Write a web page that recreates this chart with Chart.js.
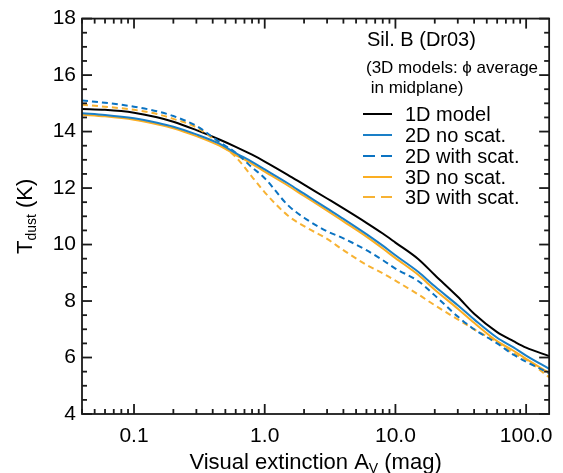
<!DOCTYPE html>
<html>
<head>
<meta charset="utf-8">
<title>Tdust vs Av</title>
<script src="https://cdn.jsdelivr.net/npm/chart.js@4.4.1/dist/chart.umd.min.js"></script>
<style>
  html, body { margin: 0; padding: 0; background: #fff; }
  #wrap { width: 563px; height: 473px; }
</style>
</head>
<body>
<div id="wrap"><canvas id="tdustChart" width="563" height="473"></canvas></div>
<script>
// Dust temperature vs visual extinction, Sil. B (Dr03)
// values

const avGrid = [0.04, 0.06, 0.1, 0.15, 0.2, 0.3, 0.45, 0.6, 0.8, 1.0, 1.5, 2, 3, 4, 6, 8, 10, 15, 20, 30, 40, 60, 80, 100, 150];

const t1D       = [14.8, 14.77, 14.67, 14.51, 14.35, 14.05, 13.72, 13.46, 13.18, 12.94, 12.47, 12.12, 11.63, 11.28, 10.77, 10.39, 10.07, 9.48, 8.92, 8.15, 7.55, 6.9, 6.58, 6.35, 6.05];
const t2DNoScat = [14.65, 14.59, 14.47, 14.31, 14.17, 13.9, 13.57, 13.24, 12.93, 12.66, 12.17, 11.8, 11.28, 10.91, 10.37, 9.96, 9.62, 9.03, 8.52, 7.85, 7.35, 6.7, 6.36, 6.07, 5.6];
const t2DScat   = [15.1, 15.02, 14.88, 14.72, 14.55, 14.2, 13.63, 13.25, 12.73, 12.35, 11.4, 10.95, 10.47, 10.22, 9.8, 9.45, 9.15, 8.7, 8.2, 7.45, 7.0, 6.5, 6.1, 5.85, 5.45];
const t3DNoScat = [14.6, 14.54, 14.42, 14.26, 14.12, 13.84, 13.5, 13.17, 12.86, 12.58, 12.09, 11.72, 11.2, 10.82, 10.28, 9.86, 9.52, 8.92, 8.4, 7.73, 7.23, 6.58, 6.24, 5.95, 5.45];
const t3DScat   = [14.95, 14.88, 14.77, 14.62, 14.45, 14.15, 13.57, 13.1, 12.4, 11.85, 11.03, 10.65, 10.2, 9.8, 9.28, 8.98, 8.72, 8.23, 7.85, 7.35, 7.0, 6.55, 6.15, 5.92, 5.3];

const seriesLabels = ['1D model', '2D no scat.', '2D with scat.', '3D no scat.', '3D with scat.'];
const seriesColors = ['#000000', '#1a7fc7', '#0b73c2', '#fbae22', '#f7b233'];
const seriesDashed = [false, false, true, false, true];

const xTickValues = [0.1, 1, 10, 100];
const xTickLabels = ['0.1', '1.0', '10.0', '100.0'];
const yTickValues = [4, 6, 8, 10, 12, 14, 16, 18];

const X_MIN = 0.04, X_MAX = 150;
const Y_MIN = 4, Y_MAX = 18;
const FONT = '"Liberation Sans", Arial, Helvetica, sans-serif';

function toPoints(ys) {
    return avGrid.map((a, i) => ({ x: a, y: ys[i] }));
}

const allSeries = [t1D, t2DNoScat, t2DScat, t3DNoScat, t3DScat];

const datasets = allSeries.map((ys, i) => ({
    label: seriesLabels[i],
    data: toPoints(ys),
    borderColor: seriesColors[i],
    borderWidth: 2,
    borderDash: seriesDashed[i] ? [6, 4] : [],
    pointRadius: 0,
    fill: false,
    cubicInterpolationMode: 'monotone'
}));
// draw the black line on top
datasets.push(datasets.shift());

/**
 * Box, inward ticks on all four sides, axis titles and the legend block
 */
const framePlugin = {
    id: 'frame',
    afterDraw(chart) {
        const ctx = chart.ctx;
        const { left, right, top, bottom } = chart.chartArea;
        const xs = chart.scales.x;
        const ys = chart.scales.y;

        ctx.save();
        ctx.strokeStyle = '#1a1a1a';
        ctx.lineWidth = 1.8;
        ctx.setLineDash([]);
        ctx.strokeRect(left, top, right - left, bottom - top);

        const line = (x1, y1, x2, y2) => {
            ctx.beginPath();
            ctx.moveTo(x1, y1);
            ctx.lineTo(x2, y2);
            ctx.stroke();
        };

        // y ticks, minor every 0.5
        for (let v = Y_MIN; v <= Y_MAX + 1e-9; v += 0.5) {
            const py = ys.getPixelForValue(v);
            const len = Math.abs(v % 2) < 1e-9 ? 10 : 5;
            line(left, py, left + len, py);
            line(right, py, right - len, py);
        }

        // x ticks, log decades
        for (let d = -2; d <= 2; d++) {
            for (let k = 1; k <= 9; k++) {
                const v = k * Math.pow(10, d);
                if (v < X_MIN || v > X_MAX) continue;
                const px = xs.getPixelForValue(v);
                const len = k === 1 ? 10 : 5;
                line(px, bottom, px, bottom - len);
                line(px, top, px, top + len);
            }
        }

        // x title with subscript
        ctx.fillStyle = '#000';
        ctx.textBaseline = 'alphabetic';
        ctx.textAlign = 'left';
        const big = '22px ' + FONT, small = '14px ' + FONT;
        ctx.font = big;
        const p1 = 'Visual extinction A', p3 = ' (mag)';
        const w1 = ctx.measureText(p1).width, w3 = ctx.measureText(p3).width;
        ctx.font = small;
        const w2 = ctx.measureText('V').width;
        let tx = (left + right) / 2 - (w1 + w2 + w3) / 2;
        const ty = 469;
        ctx.font = big;
        ctx.fillText(p1, tx, ty);
        ctx.font = small;
        ctx.fillText('V', tx + w1, ty + 4);
        ctx.font = big;
        ctx.fillText(p3, tx + w1 + w2, ty);

        // y title, rotated
        ctx.save();
        ctx.translate(32, (top + bottom) / 2);
        ctx.rotate(-Math.PI / 2);
        ctx.font = big;
        const q1 = 'T', q3 = ' (K)';
        const u1 = ctx.measureText(q1).width, u3 = ctx.measureText(q3).width;
        ctx.font = small;
        const u2 = ctx.measureText('dust').width;
        let sx = -(u1 + u2 + u3) / 2;
        ctx.font = big;
        ctx.fillText(q1, sx, 0);
        ctx.font = small;
        ctx.fillText('dust', sx + u1, 4);
        ctx.font = big;
        ctx.fillText(q3, sx + u1 + u2, 0);
        ctx.restore();

        // legend block
        ctx.textBaseline = 'middle';
        ctx.font = '20px ' + FONT;
        ctx.fillText('Sil. B (Dr03)', 367, 40);
        ctx.font = '17px ' + FONT;
        ctx.fillText('(3D models: \u03d5 average', 366, 68);
        ctx.fillText(' in midplane)', 366, 88);

        const rowY = [114, 135, 156, 177, 197];
        ctx.font = '20px ' + FONT;
        seriesLabels.forEach((lab, i) => {
            const y = rowY[i];
            ctx.strokeStyle = seriesColors[i];
            ctx.lineWidth = 2;
            ctx.setLineDash(seriesDashed[i] ? [12, 6] : []);
            line(363, y, 392, y);
            ctx.setLineDash([]);
            ctx.fillStyle = '#000';
            ctx.fillText(lab, 405, y + 1);
        });
        ctx.restore();
    }
};

const chart = new Chart(document.getElementById('tdustChart'), {
    type: 'line',
    data: { datasets: datasets },
    options: {
        responsive: false,
        devicePixelRatio: 1,
        animation: false,
        layout: { padding: { top: 13, right: 12, left: 0, bottom: 0 } },
        plugins: {
            legend: { display: false },
            tooltip: { enabled: false }
        },
        scales: {
            x: {
                type: 'logarithmic',
                min: X_MIN,
                max: X_MAX,
                grid: { display: false, drawTicks: false },
                border: { display: false },
                afterBuildTicks: (scale) => {
                    scale.ticks = xTickValues.map(v => ({ value: v, major: true }));
                },
                afterFit: (scale) => { scale.height = 59; },
                ticks: {
                    autoSkip: false,
                    maxRotation: 0,
                    padding: 10,
                    color: '#000',
                    font: { family: FONT, size: 21 },
                    callback: (v) => {
                        const i = xTickValues.indexOf(v);
                        return i >= 0 ? xTickLabels[i] : '';
                    }
                }
            },
            y: {
                type: 'linear',
                min: Y_MIN,
                max: Y_MAX,
                grid: { display: false, drawTicks: false },
                border: { display: false },
                afterBuildTicks: (scale) => {
                    scale.ticks = yTickValues.map(v => ({ value: v }));
                },
                afterFit: (scale) => { scale.width = 82; },
                ticks: {
                    autoSkip: false,
                    padding: 6,
                    color: '#000',
                    font: { family: FONT, size: 21 },
                    callback: (v) => String(v)
                }
            }
        }
    },
    plugins: [framePlugin]
});
</script>
</body>
</html>
